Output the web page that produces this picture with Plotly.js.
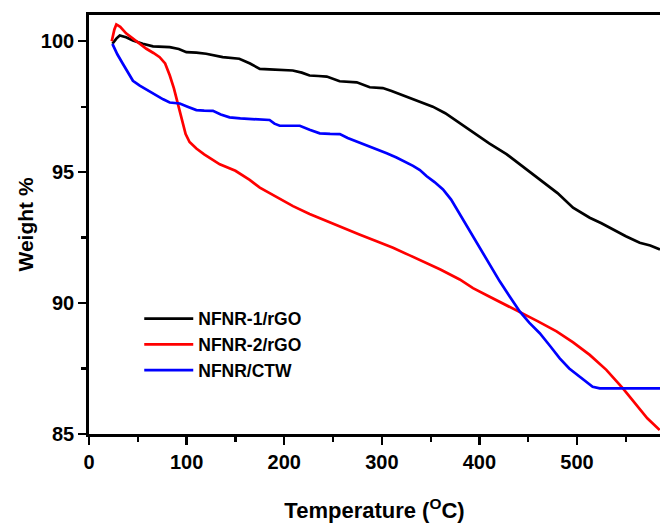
<!DOCTYPE html>
<html>
<head>
<meta charset="utf-8">
<script src="https://cdn.plot.ly/plotly-3.0.1.min.js"></script>
<style>html,body{margin:0;padding:0;background:#fff;}#chart{width:660px;height:527px;}</style>
</head>
<body>
<div id="chart"></div>
<script>
// NFNR-1/rGO (black)
const tBlack = [24,28,31.5,38,45,55,65.6,75,82.7,92,99.8,110,120,137,154,165,175,185,197,208.7,218,226,235,243.6,256.8,265,274.3,287.6,301,310,318.3,335.8,352.2,365,379.8,393.4,410,427.7,445,461.8,480,495.9,513,525,536.9,550,564.2,575,585];
const wBlack = [99.9,100.1,100.22,100.15,100.03,99.9,99.8,99.78,99.77,99.7,99.58,99.56,99.52,99.39,99.33,99.15,98.94,98.92,98.9,98.88,98.8,98.69,98.67,98.65,98.47,98.45,98.43,98.24,98.21,98.1,97.98,97.75,97.5,97.25,96.88,96.51,96.1,95.69,95.2,94.73,94.2,93.64,93.26,93.05,92.81,92.55,92.3,92.2,92.05];

// NFNR-2/rGO (red)
const tRed = [23.3,26,28,32,38,45,52,58.8,66,72.4,78,82.7,87,91,95,99,103,110,118,134,150,164.6,175,192,209,226,243,260,277,294,311.5,328,345.7,360,379.8,393.4,410,425,441.3,460,479,496,513,530,547,560,572,584.7];
const wRed = [100.0,100.45,100.64,100.55,100.3,100.09,99.9,99.71,99.55,99.39,99.15,98.7,98.2,97.6,96.95,96.45,96.15,95.9,95.68,95.3,95.05,94.7,94.41,94.05,93.7,93.4,93.13,92.88,92.62,92.37,92.11,91.83,91.53,91.28,90.9,90.57,90.25,89.97,89.68,89.3,88.92,88.5,88.02,87.45,86.74,86.15,85.6,85.15];

// NFNR/CTW (blue)
const tBlue = [24,29,34.8,40,45,52,60,69,76,82.7,93,101,110,118,127,135,144,155,164.6,175,185,190,195.4,205,216,226,236.4,247,257,265,274,284,294.5,305,315,323,332,339,345.7,354,362.7,371,379.8,391,402,411,420.8,431,441.3,451,461.8,472,482.3,492,502.8,510,516,523.3,540,585];
const wBlue = [99.9,99.5,99.13,98.8,98.49,98.3,98.12,97.92,97.78,97.66,97.62,97.5,97.37,97.35,97.34,97.2,97.09,97.05,97.03,97.02,96.99,96.85,96.77,96.77,96.77,96.62,96.48,96.46,96.45,96.3,96.17,96.05,95.88,95.72,95.56,95.42,95.24,95.08,94.85,94.62,94.34,93.95,93.39,92.7,91.98,91.4,90.83,90.25,89.68,89.25,88.85,88.38,87.89,87.5,87.19,86.98,86.8,86.74,86.74,86.74];

const seriesNames = ["NFNR-1/rGO", "NFNR-2/rGO", "NFNR/CTW"];
const xTicks = [0,100,200,300,400,500];
const yTicks = [85,90,95,100];

const FONT = "Liberation Sans, Arial, sans-serif";

const traces = [
  {x: tBlack, y: wBlack, name: seriesNames[0], legendgroup: "a", mode: "lines", line: {color: "#000000", width: 2.7}},
  {x: tRed, y: wRed, name: seriesNames[1], legendgroup: "b", mode: "lines", line: {color: "#ff0000", width: 2.7}},
  {x: tBlue, y: wBlue, name: seriesNames[2], legendgroup: "c", mode: "lines", line: {color: "#0000ff", width: 2.7}}
];

const axisCommon = {
  showgrid: false, zeroline: false, showline: true, linecolor: "#000", linewidth: 2.8,
  ticks: "outside", ticklen: 8, tickwidth: 2.4, tickcolor: "#000",
  tickfont: {family: FONT, size: 20, color: "#000", weight: "bold"}
};

const layout = {
  width: 660, height: 527,
  margin: {l: 89, r: 0, t: 15, b: 93, pad: 0},
  paper_bgcolor: "#fff", plot_bgcolor: "#fff",
  showlegend: true,
  legend: {
    x: 0.088, y: 0.318, xanchor: "left", yanchor: "top",
    bgcolor: "rgba(0,0,0,0)", borderwidth: 0,
    traceorder: "grouped", tracegroupgap: 0, itemwidth: 49,
    font: {family: FONT, size: 17.5, color: "#000", weight: "bold"}
  },
  xaxis: Object.assign({}, axisCommon, {
    range: [0, 585], tickvals: xTicks, mirror: true,
    minor: {dtick: 50, ticks: "outside", ticklen: 5, tickwidth: 2.2, tickcolor: "#000"},
    title: {text: "Temperature (<sup>O</sup>C)", standoff: 31, font: {family: FONT, size: 22, color: "#000", weight: "bold"}}
  }),
  yaxis: Object.assign({}, axisCommon, {
    range: [85, 101], tickvals: yTicks,
    minor: {dtick: 2.5, ticks: "outside", ticklen: 5, tickwidth: 2.2, tickcolor: "#000"},
    title: {text: "Weight %", standoff: 2, font: {family: FONT, size: 21, color: "#000", weight: "bold"}}
  })
};

Plotly.newPlot("chart", traces, layout, {displayModeBar: false, staticPlot: true});
</script>
</body>
</html>
